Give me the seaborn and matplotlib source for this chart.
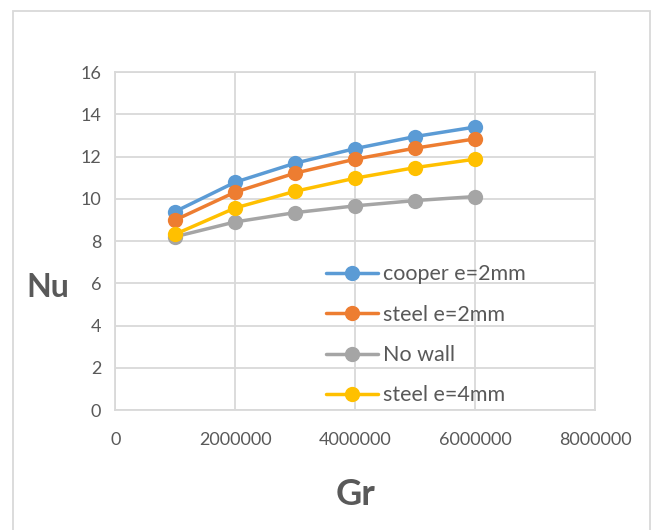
import matplotlib
matplotlib.use("Agg")
import matplotlib.pyplot as plt
from matplotlib.patches import Rectangle
import seaborn as sns
import pandas as pd

# Grashof numbers and the Nusselt number of each wall configuration
gr = [1000000, 2000000, 3000000, 4000000, 5000000, 6000000]
nu_cooper_2mm = [9.40, 10.79, 11.69, 12.38, 12.95, 13.40]
nu_steel_2mm = [9.00, 10.32, 11.22, 11.88, 12.40, 12.84]
nu_no_wall = [8.21, 8.91, 9.35, 9.67, 9.92, 10.11]
nu_steel_4mm = [8.33, 9.57, 10.36, 10.98, 11.48, 11.88]

series_names = ["cooper e=2mm", "steel e=2mm", "No wall", "steel e=4mm"]
series_values = [nu_cooper_2mm, nu_steel_2mm, nu_no_wall, nu_steel_4mm]
colors = ["#5B9BD5", "#ED7D31", "#A5A5A5", "#FFC000"]

x_ticks = [0, 2000000, 4000000, 6000000, 8000000]
y_ticks = [0, 2, 4, 6, 8, 10, 12, 14, 16]

rows = []
for name, vals in zip(series_names, series_values):
    for g, v in zip(gr, vals):
        rows.append({"Gr": g, "Nu": v, "series": name})
df = pd.DataFrame(rows)

sns.set_theme(style="white")
plt.rcParams["font.family"] = ["Lato", "DejaVu Sans"]

fig = plt.figure(figsize=(6.62, 5.30), dpi=100)
ax = fig.add_axes([0.174, 0.226, 0.725, 0.638])

sns.lineplot(
    data=df, x="Gr", y="Nu", hue="series", hue_order=series_names,
    palette=colors, marker="o", markersize=11, markeredgewidth=0,
    linewidth=2.5, ax=ax, legend=True,
)

ax.set_xlim(0, 8000000)
ax.set_ylim(0, 16)
ax.set_xticks(x_ticks)
ax.set_xticklabels([str(t) for t in x_ticks])
ax.set_yticks(y_ticks)
ax.set_yticklabels([str(t) for t in y_ticks])
ax.grid(True, color="#D9D9D9", linewidth=1.3)
ax.set_axisbelow(True)
for s in ax.spines.values():
    s.set_color("#D9D9D9")
    s.set_linewidth(1.3)
ax.tick_params(axis="both", length=0, labelsize=13, colors="#595959", pad=10)
ax.tick_params(axis="x", pad=16)

ax.set_xlabel("Gr", fontsize=26, fontweight="bold", color="#595959")
ax.xaxis.set_label_coords(0.5, -0.20)
ax.set_ylabel("Nu", fontsize=23, fontweight="bold", color="#595959",
              rotation=0, va="center", ha="center")
ax.yaxis.set_label_coords(-0.14, 0.364)

leg = ax.legend(
    loc="upper left", bbox_to_anchor=(0.44, 0.432), frameon=False,
    fontsize=15.5, labelspacing=0.95, handlelength=2.4, handletextpad=0.25,
    borderaxespad=0, borderpad=0,
)
for t in leg.get_texts():
    t.set_color("#595959")

fig.patches.append(Rectangle((0.02, -0.01), 0.962, 0.99, transform=fig.transFigure,
                             fill=False, edgecolor="#D9D9D9", linewidth=1.3))

fig.savefig("out.png", dpi=100)
